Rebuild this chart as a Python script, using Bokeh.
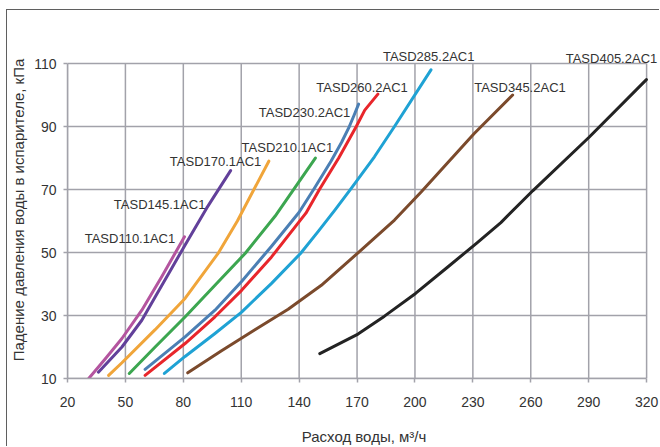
from bokeh.plotting import figure
from bokeh.models import Label, FixedTicker, Range1d
from bokeh.embed import file_html
from bokeh.resources import INLINE

# ---- data ----
models = ["TASD110.1AC1", "TASD145.1AC1", "TASD170.1AC1", "TASD210.1AC1", "TASD230.2AC1",
          "TASD260.2AC1", "TASD285.2AC1", "TASD345.2AC1", "TASD405.2AC1"]

flow_110 = [31, 39.5, 48.2, 58.5, 68.8, 80.6]
dp_110 = [10, 16.2, 22.7, 31.7, 42.3, 55]

flow_145 = [36, 48.2, 58.5, 66, 74, 81, 92, 104.5]
dp_145 = [12, 20, 28.5, 36.5, 45, 52.5, 64, 76]

flow_170 = [41.3, 48.2, 65.4, 81, 98, 108, 124.3]
dp_170 = [11, 15, 25.5, 35.5, 49.7, 60, 79]

flow_210 = [52, 65.4, 81, 96.4, 112, 127.5, 148.4]
dp_210 = [11.6, 20, 29.6, 39.6, 49.7, 61.5, 80]

flow_230 = [60.2, 80.9, 96.4, 110.2, 125.7, 140, 147.5, 156.5, 162, 166, 168.4, 170.8]
dp_230 = [12.9, 23.2, 31.7, 40.8, 52, 62.8, 70, 79, 85, 90, 93.5, 97.1]

flow_260 = [60.2, 80.9, 96.4, 110.2, 125.7, 143.5, 150.5, 160.5, 169.6, 174, 180.8]
dp_260 = [11, 21.1, 29.6, 38, 48.6, 62.5, 70, 80, 90, 95.2, 100.3]

flow_285 = [70.2, 80.9, 96.4, 110.2, 125.7, 140.7, 150, 158.4, 166.5, 179, 189.4, 208.3]
dp_285 = [11.6, 17, 24.3, 31.1, 40.2, 49.7, 56.8, 63.4, 70, 80.4, 90, 108]

flow_345 = [82.3, 99.8, 117.1, 134.3, 151.5, 170.5, 189.4, 203.2, 230.7, 250.6]
dp_345 = [11.8, 18.8, 25.5, 32, 39.6, 49.9, 60.3, 69.2, 87.8, 100]

flow_405 = [150.7, 170.5, 184.2, 200.3, 217, 232, 244.5, 261, 290.2, 319.9]
dp_405 = [17.9, 24.1, 29.8, 37, 45.4, 53, 59.5, 69.6, 86.6, 104.9]

x_ticks = [20, 50, 80, 110, 140, 170, 200, 230, 260, 290, 320]
y_ticks = [10, 30, 50, 70, 90, 110]

# ---- styles / positions ----
colors = ["#b4559f", "#62409a", "#f0a53a", "#3ca650", "#4b7fb4",
          "#e8262b", "#1fa2d4", "#7b4a2c", "#232323"]
label_pos = [(28.9, 54.4), (44.0, 65.3), (73.0, 78.8), (110.2, 83.3), (119.1, 94.6),
             (148.9, 102.3), (183.4, 112.3), (230.7, 102.3), (278.1, 111.6)]

series = [(flow_110, dp_110), (flow_145, dp_145), (flow_170, dp_170), (flow_210, dp_210),
          (flow_230, dp_230), (flow_260, dp_260), (flow_285, dp_285), (flow_345, dp_345),
          (flow_405, dp_405)]

FONT = "Liberation Sans"
GRID = "#a2a2aa"
x0, x1 = x_ticks[0], x_ticks[-1]
y0, y1 = y_ticks[0], y_ticks[-1]

p = figure(width=653, height=437, x_range=Range1d(x0, 327.2), y_range=Range1d(y0, 117.0),
           output_backend="svg", toolbar_location=None,
           min_border_left=59, min_border_right=0, min_border_top=31, min_border_bottom=69)
p.styles = {"margin-left": "6px", "margin-top": "9px",
            "border-left": "1px solid #5f5f5f", "border-top": "1px solid #5f5f5f"}
p.outline_line_color = None
p.background_fill_color = "white"
p.border_fill_color = "white"
p.xgrid.visible = False
p.ygrid.visible = False

p.xaxis.ticker = FixedTicker(ticks=x_ticks)
p.yaxis.ticker = FixedTicker(ticks=y_ticks)
p.xaxis.bounds = (x0, x1)
p.yaxis.bounds = (y0, y1)

# grid lines limited to the plotted area
p.segment(x0=x_ticks, y0=[y0] * len(x_ticks), x1=x_ticks, y1=[y1] * len(x_ticks),
          line_color=GRID, line_width=1.5)
p.segment(x0=[x0] * len(y_ticks), y0=y_ticks, x1=[x1] * len(y_ticks), y1=y_ticks,
          line_color=GRID, line_width=1.5)

for ax in (p.xaxis, p.yaxis):
    ax.axis_line_color = GRID
    ax.axis_line_width = 1.5
    ax.major_tick_line_color = GRID
    ax.major_tick_line_width = 1.5
    ax.major_tick_out = 4
    ax.major_tick_in = 0
    ax.minor_tick_line_color = None
    ax.major_label_text_font = FONT
    ax.major_label_text_font_size = "14px"
    ax.major_label_text_color = "#333333"
    ax.axis_label_text_font = FONT
    ax.axis_label_text_font_size = "15px"
    ax.axis_label_text_font_style = "normal"
    ax.axis_label_text_color = "#333333"

p.xaxis.axis_label = "Расход воды, м³/ч"
p.xaxis.major_label_standoff = 14
p.xaxis.axis_label_standoff = 18
p.yaxis.axis_label = "Падение давления воды в испарителе, кПа"
p.yaxis.major_label_standoff = 7
p.yaxis.axis_label_standoff = 4

for (xs, ys), c in zip(series, colors):
    p.line(xs, ys, line_color=c, line_width=3, line_cap="round", line_join="round")

for name, (lx, ly) in zip(models, label_pos):
    p.add_layout(Label(x=lx, y=ly, text=name, text_font=FONT, text_font_size="13px",
                       text_color="#333333", text_align="left", text_baseline="middle"))

open("out.html", "w").write(file_html(p, INLINE))
